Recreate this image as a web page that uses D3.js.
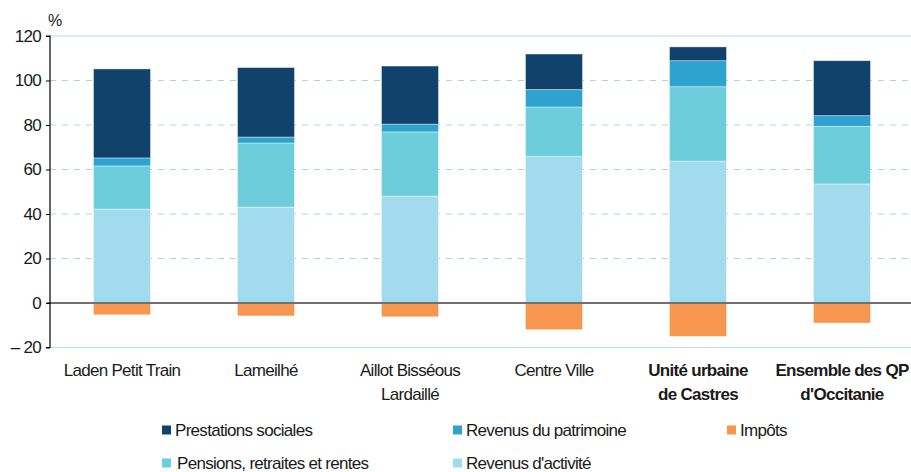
<!DOCTYPE html>
<meta charset="utf-8">
<style>
  body { margin: 0; background: #fff; }
  text { font-family: "Liberation Sans", Arial, sans-serif; fill: #1a1a1a; }
</style>
<script src="https://d3js.org/d3.v7.min.js"></script>
<div id="chart"></div>
<script>

// categories and values (%)
var quartiers = ["Laden Petit Train", "Lameilhé", "Aillot Bisséous|Lardaillé", "Centre Ville", "Unité urbaine|de Castres", "Ensemble des QP|d'Occitanie"];
var enGras = [false, false, false, false, true, true];

var revenusActivite = [42.2, 43.1, 48.0, 65.8, 63.8, 53.5];
var pensions        = [19.4, 28.8, 28.9, 22.3, 33.4, 25.9];
var patrimoine      = [3.6, 2.7, 3.5, 7.8, 11.7, 4.8];
var prestations     = [40.0, 31.2, 26.1, 16.0, 6.2, 24.7];
var impots          = [-5.3, -5.8, -6.2, -12.0, -15.0, -9.0];

var yTicks = [-20, 0, 20, 40, 60, 80, 100, 120];

var series = [
  {key: "Revenus d'activité", values: revenusActivite, color: "#a2dbee"},
  {key: "Pensions, retraites et rentes", values: pensions, color: "#6dcdda"},
  {key: "Revenus du patrimoine", values: patrimoine, color: "#2fa3cf"},
  {key: "Prestations sociales", values: prestations, color: "#10426b"}
];
var serieImpots = {key: "Impôts", values: impots, color: "#f7964e"};

var W = 911, H = 472;
var fs = "17px", ls = "-0.7px";

var svg = d3.select("#chart").append("svg")
  .attr("width", W).attr("height", H);

var x = d3.scaleBand()
  .domain(d3.range(quartiers.length))
  .range([50, 914])
  .paddingInner(0.604)
  .paddingOuter(0.302);

var y = d3.scaleLinear()
  .domain([-20, 120])
  .range([347.5, 36]);

// gridlines
svg.append("g")
  .selectAll("line")
  .data(yTicks)
  .enter()
  .append("line")
    .attr("x1", 50).attr("x2", W)
    .attr("y1", function (d) { return y(d); })
    .attr("y2", function (d) { return y(d); })
    .attr("stroke", function (d) { return (d == 120 || d == -20) ? "#b5dcf0" : "#a9d6ee"; })
    .attr("stroke-width", 1.2)
    .attr("stroke-dasharray", function (d) { return (d == 120 || d == -20) ? null : "6,6"; })
    .style("display", function (d) { return d == 0 ? "none" : null; });

// stacked bars (positive part)
var stacked = series.map(function (s, i) {
  return s.values.map(function (v, j) {
    var base = d3.sum(series.slice(0, i), function (p) { return p.values[j]; });
    return {y0: base, y1: base + v, color: s.color, j: j};
  });
});

stacked.forEach(function (rows) {
  svg.append("g")
    .selectAll("rect")
    .data(rows)
    .enter()
    .append("rect")
      .attr("x", function (d) { return x(d.j); })
      .attr("width", x.bandwidth())
      .attr("y", function (d) { return y(d.y1); })
      .attr("height", function (d) { return y(d.y0) - y(d.y1); })
      .attr("fill", function (d) { return d.color; })
      .attr("stroke", "#ffffff")
      .attr("stroke-opacity", 0.5)
      .attr("stroke-width", 0.8);
});

// impots (negative)
svg.append("g")
  .selectAll("rect")
  .data(serieImpots.values)
  .enter()
  .append("rect")
    .attr("x", function (d, j) { return x(j); })
    .attr("width", x.bandwidth())
    .attr("y", y(0))
    .attr("height", function (d) { return y(d) - y(0); })
    .attr("fill", serieImpots.color)
    .attr("stroke", "#ffffff")
    .attr("stroke-opacity", 0.5)
    .attr("stroke-width", 0.8);

// zero line
svg.append("line")
  .attr("x1", 47).attr("x2", W)
  .attr("y1", y(0)).attr("y2", y(0))
  .attr("stroke", "#707070")
  .attr("stroke-width", 2);

// y axis
var yAxis = svg.append("g")
  .attr("transform", "translate(50,0)")
  .call(d3.axisLeft(y)
    .tickValues(yTicks)
    .tickSize(4)
    .tickPadding(5)
    .tickFormat(function (d) { return d < 0 ? "\u2013 " + Math.abs(d) : d; }));
yAxis.select(".domain").attr("stroke", "#000").attr("stroke-width", 1.2).attr("d", "M-4," + y(120) + "H0V" + y(-20) + "H-4");
yAxis.selectAll(".tick line").attr("stroke", "#000");
yAxis.selectAll(".tick text")
  .style("font-size", fs)
  .style("letter-spacing", ls)
  .style("font-family", "'Liberation Sans', Arial, sans-serif")
  .attr("fill", "#1a1a1a");

svg.append("text")
  .attr("x", 48).attr("y", 26)
  .style("font-size", "16px")
  .text("%");

// x labels
var xl = svg.append("g")
  .selectAll("text")
  .data(quartiers)
  .enter()
  .append("text")
    .attr("text-anchor", "middle")
    .attr("x", function (d, i) { return x(i) + x.bandwidth() / 2; })
    .attr("y", 376)
    .style("font-size", fs)
    .style("letter-spacing", ls)
    .style("font-weight", function (d, i) { return enGras[i] ? "bold" : "normal"; });

xl.selectAll("tspan")
  .data(function (d) { return d.split("|"); })
  .enter()
  .append("tspan")
    .attr("x", function () { return d3.select(this.parentNode).attr("x"); })
    .attr("dy", function (d, i) { return i == 0 ? 0 : 24; })
    .text(function (d) { return d; });

// legend
var legende = [
  {s: series[3], x: 162, y: 430},
  {s: series[2], x: 453, y: 430},
  {s: serieImpots, x: 727, y: 430},
  {s: series[1], x: 162, y: 463},
  {s: series[0], x: 453, y: 463}
];

var lg = svg.append("g")
  .selectAll("g")
  .data(legende)
  .enter()
  .append("g")
    .attr("transform", function (d) { return "translate(" + d.x + "," + d.y + ")"; });

lg.append("rect")
  .attr("x", 0).attr("y", -4.5)
  .attr("width", 9).attr("height", 9)
  .attr("fill", function (d) { return d.s.color; });

lg.append("text")
  .attr("x", function (d) { return d.s.key.indexOf("Pensions") == 0 ? 15 : 13; })
  .attr("y", 6)
  .style("font-size", fs)
  .style("letter-spacing", ls)
  .text(function (d) { return d.s.key; });

</script>
